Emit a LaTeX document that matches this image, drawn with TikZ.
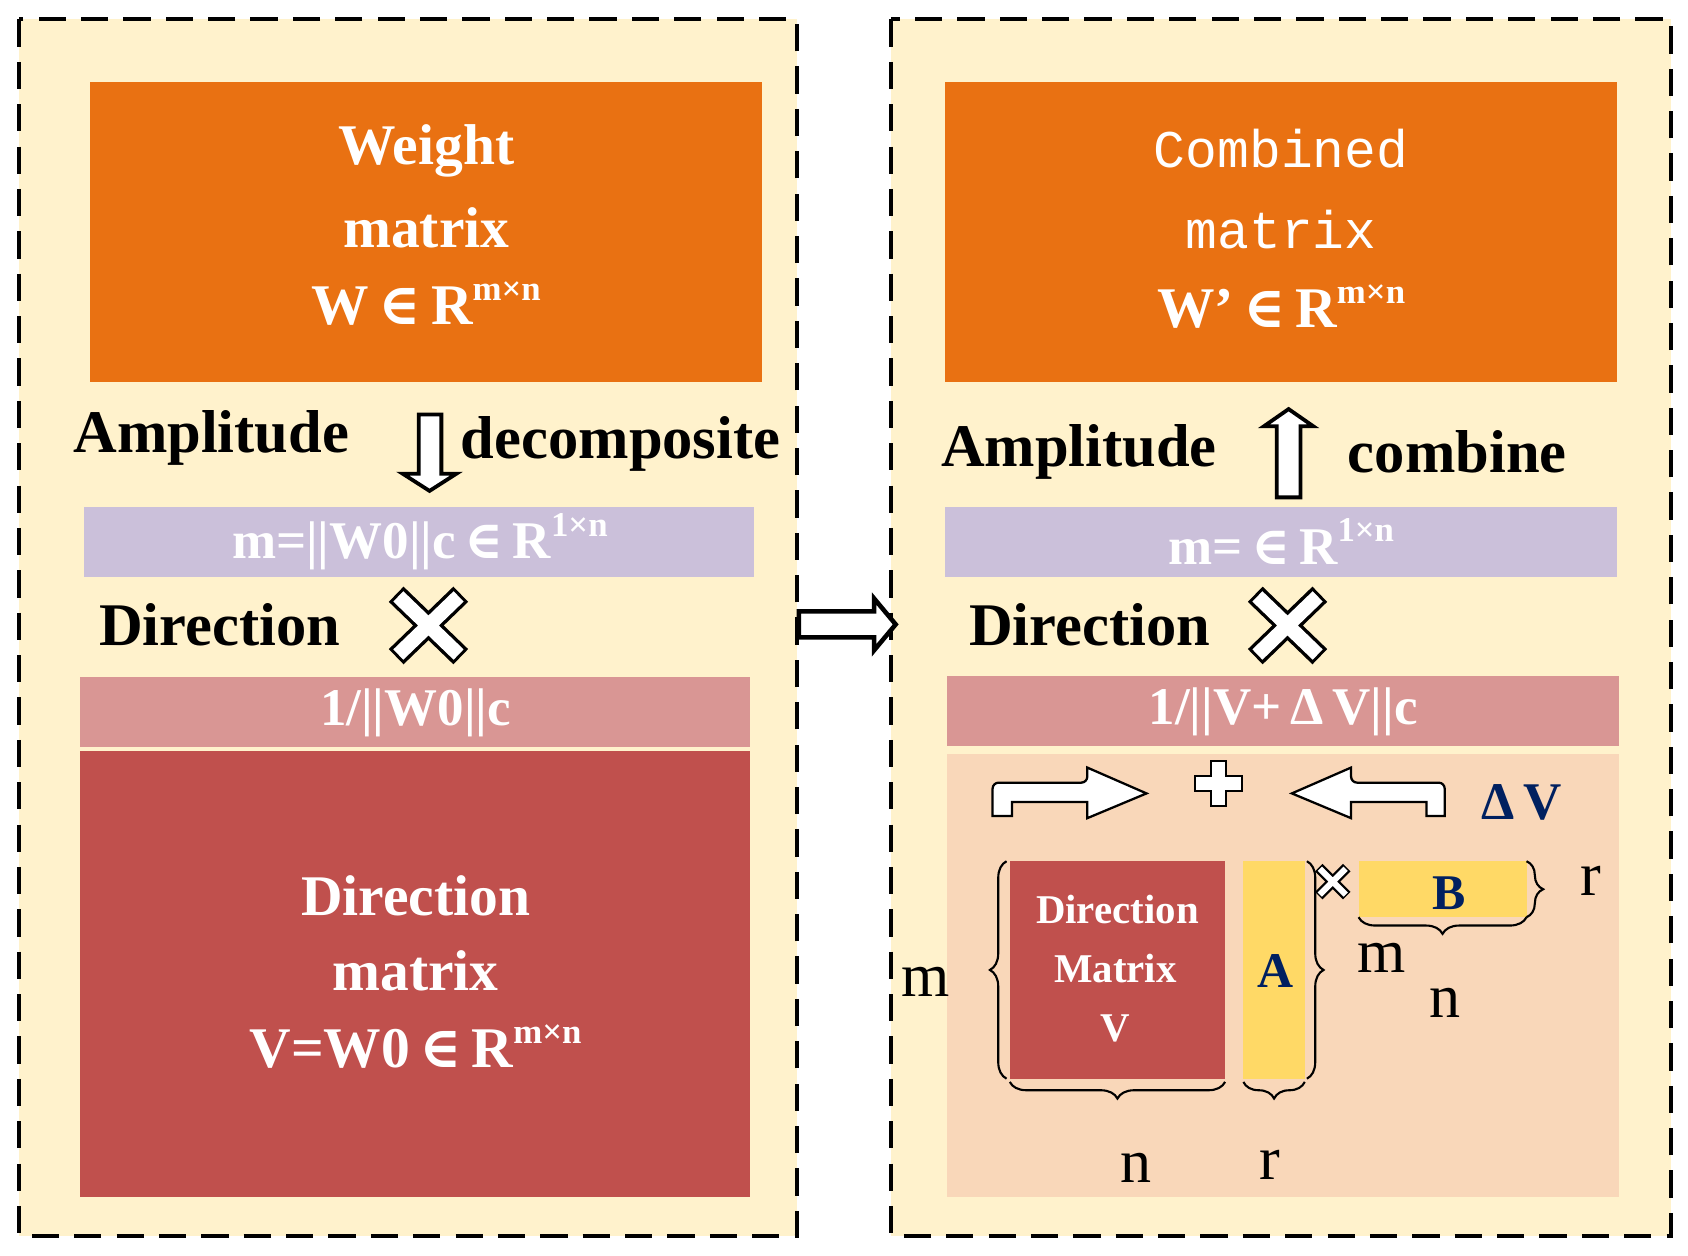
\documentclass[tikz,border=0pt]{standalone}
\usepackage{fontspec}
\setmainfont{Liberation Serif}
\newfontfamily\monof{Liberation Mono}
\newfontfamily\symf{DejaVu Serif}
\usetikzlibrary{decorations.pathreplacing}
\definecolor{cream}{HTML}{FFF2CC}
\definecolor{orng}{HTML}{E97112}
\definecolor{lav}{HTML}{CBC0DA}
\definecolor{pinkb}{HTML}{D99694}
\definecolor{dred}{HTML}{C0504D}
\definecolor{peach}{HTML}{F9D7B9}
\definecolor{yel}{HTML}{FFD966}
\definecolor{navy}{HTML}{002060}
\newcommand\fsz[1]{\fontsize{#1}{#1}\selectfont}
\newcommand\elt{{\symf\bfseries\,∈\,}}
\newcommand\sps[1]{\raisebox{0.42em}{\fsz{46}#1}}
\begin{document}
\begin{tikzpicture}[x=0.5mm,y=-0.5mm,
  frame/.style={draw,line width=5.5pt,dash pattern=on 36pt off 20pt,fill=cream},
  wt/.style={text=white,font=\fsz{76}\bfseries,align=center,inner sep=0},
  bt/.style={text=black,font=\fsz{80}\bfseries,inner sep=0},
  hollow/.style={draw=black,fill=white,line width=5pt,line join=miter},
  br/.style={decorate,decoration={brace,amplitude=22pt},line width=2.8pt},
  lbl/.style={font=\fsz{82},inner sep=0}]
\useasboundingbox (0,0) rectangle (1568,1166);
% frames
\draw[frame] (18,18) rectangle (740,1148);
\draw[frame] (828,18) rectangle (1552,1148);
% left panel
\fill[orng] (84,76) rectangle (708,355);
\node[wt] (w1) at (396,140) {Weight};
\node[wt] (w2) at (396,212) {matrix};
\node[wt] (w3) at (396,282) {W\elt R\sps{m×n}};
\node[bt,anchor=west] (amp1) at (68,407) {Amplitude};
\draw[hollow] (389,385) -- (410,385) -- (410,440) -- (424,440) -- (399,456) -- (374,440) -- (389,440) -- cycle;
\node[bt,anchor=west] (dec) at (428,412) {decomposite};
\fill[lav] (78,471) rectangle (700,536);
\node[wt,font=\fsz{70}\bfseries] (m1) at (390,503) {m=||W0||c\elt R\sps{1×n}};
\node[bt,anchor=west] (dir1) at (92,580) {Direction};
\draw[line width=28pt] (368,552) -- (428,610) (368,610) -- (428,552);
\draw[white,line width=19pt] (370,554) -- (426,608) (370,608) -- (426,554);
\fill[pinkb] (74,629) rectangle (697,694);
\node[wt,font=\fsz{70}\bfseries] (inv1) at (386,662) {1/||W0||c};
\fill[dred] (74,698) rectangle (697,1112);
\node[wt] (d1) at (386,832) {Direction};
\node[wt] (d2) at (386,902) {matrix};
\node[wt] (d3) at (386,972) {V=W0\elt R\sps{m×n}};
% middle arrow
\draw[hollow,line width=6pt] (742,568) -- (812,568) -- (812,556) -- (832,580) -- (812,604) -- (812,592) -- (742,592) -- cycle;
% right panel
\fill[orng] (878,76) rectangle (1502,355);
\node[wt,font=\fsz{70}\monof] (c1) at (1190,138) {Combined};
\node[wt,font=\fsz{70}\monof] (c2) at (1190,213) {matrix};
\node[wt] (c3) at (1190,285) {W'\elt R\sps{m×n}};
\node[bt,anchor=west] (amp2) at (874,420) {Amplitude};
\draw[hollow] (1186,462) -- (1208,462) -- (1208,396) -- (1220,396) -- (1197,380) -- (1174,396) -- (1186,396) -- cycle;
\node[bt,anchor=west] (comb) at (1252,420) {combine};
\fill[lav] (878,471) rectangle (1502,536);
\node[wt,font=\fsz{70}\bfseries] (m2) at (1190,503) {m=\elt R\sps{1×n}};
\node[bt,anchor=west] (dir2) at (900,580) {Direction};
\draw[line width=28pt] (1166,552) -- (1226,610) (1166,610) -- (1226,552);
\draw[white,line width=19pt] (1168,554) -- (1224,608) (1168,608) -- (1224,554);
\fill[pinkb] (880,628) rectangle (1504,693);
\node[wt,font=\fsz{70}\bfseries] (inv2) at (1192,661) {1/||V+\,Δ\,V||c};
\fill[peach] (880,700) rectangle (1504,1112);
% bent arrows and plus
\draw[hollow,line width=3pt] (922,758) -- (922,740) [rounded corners=8] -- (922,727) -- (1010,727) [sharp corners] -- (1010,713) -- (1065,737) -- (1010,760) -- (1010,745) -- (940,745) -- (940,758) -- cycle;
\draw[hollow,line width=3pt] (1342,758) -- (1342,740) [rounded corners=8] -- (1342,727) -- (1255,727) [sharp corners] -- (1255,713) -- (1200,737) -- (1255,760) -- (1255,745) -- (1325,745) -- (1325,758) -- cycle;
\draw[hollow,line width=3pt] (1125,707) -- (1139,707) -- (1139,721) -- (1154,721) -- (1154,735) -- (1139,735) -- (1139,749) -- (1125,749) -- (1125,735) -- (1110,735) -- (1110,721) -- (1125,721) -- cycle;
\node[font=\fsz{70}\bfseries,text=navy,inner sep=0] (dv) at (1413,745) {Δ\,V};
% matrices
\fill[dred] (938,800) rectangle (1138,1002);
\node[wt,font=\fsz{54}\bfseries] (v1) at (1038,845) {Direction};
\node[wt,font=\fsz{54}\bfseries] (v2) at (1036,900) {Matrix};
\node[wt,font=\fsz{54}\bfseries] (v3) at (1036,955) {V};
\fill[yel] (1155,800) rectangle (1212,1002);
\node[font=\fsz{66}\bfseries,text=navy,inner sep=0] (a) at (1185,902) {A};
\fill[yel] (1262,800) rectangle (1418,852);
\node[font=\fsz{66}\bfseries,text=navy,inner sep=0] (b) at (1346,830) {B};
\draw[line width=14pt] (1225,806) -- (1251,832) (1225,832) -- (1251,806);
\draw[white,line width=8pt] (1226,807) -- (1250,831) (1226,831) -- (1250,807);
% braces
\draw[br] (935,1002) -- (935,800);
\draw[br] (1138,1005) -- (938,1005);
\draw[br] (1212,1005) -- (1155,1005);
\draw[br] (1214,800) -- (1214,1002);
\draw[br] (1418,800) -- (1418,852);
\draw[br] (1418,852) -- (1262,852);
\node[lbl] (lm) at (860,912) {m};
\node[lbl] (ln) at (1055,1085) {n};
\node[lbl] (lr) at (1180,1082) {r};
\node[lbl] (lm2) at (1283,890) {m};
\node[lbl] (ln2) at (1342,932) {n};
\node[lbl] (lr2) at (1478,818) {r};
\end{tikzpicture}
\end{document}
